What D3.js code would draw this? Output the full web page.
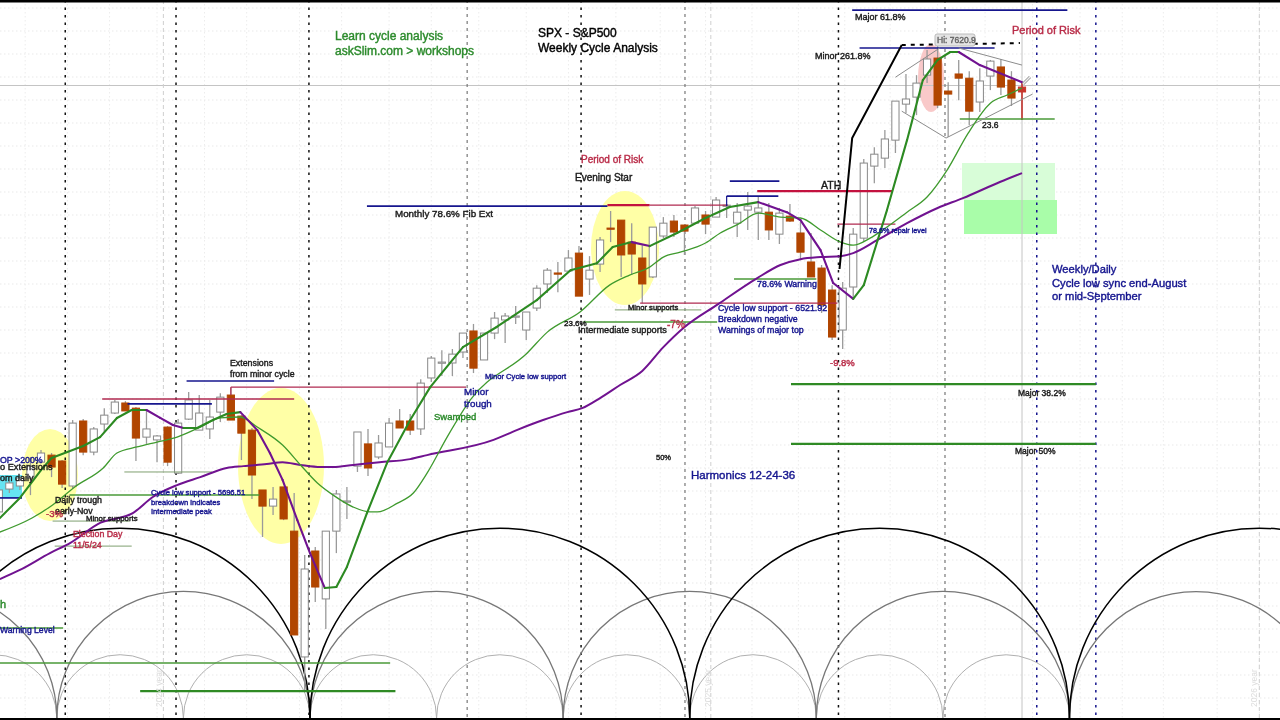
<!DOCTYPE html>
<html>
<head>
<meta charset="utf-8">
<title>SPX Weekly Cycle Analysis</title>
<script src="https://cdn.jsdelivr.net/npm/d3@7"></script>
<style>
body { margin: 0; background: #fff; overflow: hidden; }
#chart-area svg { display: block; filter: blur(0.45px); }
text { font-family: "Liberation Sans", Arial, sans-serif; }
.note { stroke-width: 0.4px; }
</style>
</head>
<body>
<div id="chart-area"></div>
<script>
// weekly candles, first one is week -4
const firstWeek = -4
const opens = [5624,5722,5735,5769,5837,5867,5842,5735,6013,5880,6000,6047,6090,6068,5944,5932,5987,5790,6021,5974,5979,6051,6124,6034,5974,5718,5649,5731,5542,5004,5457,5252,5542,5666,5820,5915,5859,5902,6013,6013,5979,6197,6261,6261,6308,6398,6274,6389,6445,6458,6402,6496,6599,6646,6654,6731,6620,6684,6838,6872,6778,6710,6629,6804,6868,6851,6859,6894,6885,6932,6859,6915,6906,6906,6812,6889,6817,6693,6667,6573,6402,6586,6795,7103,7137,7214,7368,7398,7492,7565,7424,7497,7479,7377,7488,7527,7471,7441]
const highs = [5726,5757,5778,5859,5889,5876,5846,6017,6021,5987,6068,6103,6098,6073,6064,5953,5991,6021,6137,6124,6103,6132,6154,6038,5983,5718,5731,5731,5705,5440,5474,5542,5718,5731,5966,5979,5953,6026,6064,6043,6192,6291,6316,6321,6389,6428,6389,6479,6475,6505,6479,6594,6667,6693,6744,6761,6718,6800,6911,6872,6859,6765,6842,6885,6894,6851,6932,6911,6971,6941,6945,6992,6971,6945,6924,6941,6864,6817,6680,6594,6607,6838,7133,7184,7257,7381,7497,7492,7599,7621,7462,7557,7509,7522,7557,7561,7509,7462]
const lows = [5589,5705,5718,5696,5837,5773,5726,5726,5867,5867,5966,6043,6056,5842,5915,5837,5820,5786,6017,5974,5936,6009,6017,5846,5679,5517,5611,5589,5098,4863,5239,5123,5448,5594,5795,5778,5850,5902,5983,5953,5953,6180,6205,6205,6282,6218,6274,6363,6346,6428,6359,6483,6560,6564,6654,6547,6552,6650,6778,6629,6637,6517,6624,6795,6800,6723,6859,6812,6885,6881,6800,6830,6787,6787,6770,6864,6701,6629,6475,6359,6321,6539,6778,7030,7095,7159,7330,7321,7458,7351,7227,7385,7278,7334,7428,7407,7360,7300]
const closes = [5718,5748,5769,5820,5876,5816,5743,6004,5880,5979,6038,6094,6056,5940,5979,5949,5837,6004,6103,6047,6030,6115,6017,5961,5782,5649,5679,5594,5098,5380,5303,5542,5701,5671,5966,5812,5919,6004,5983,5974,6175,6282,6265,6299,6389,6239,6389,6453,6462,6462,6479,6581,6658,6641,6710,6547,6658,6787,6834,6723,6727,6599,6842,6859,6821,6825,6924,6855,6958,6936,6906,6932,6924,6830,6902,6868,6735,6629,6509,6372,6581,6812,7116,7154,7219,7381,7390,7458,7561,7364,7411,7479,7338,7467,7552,7441,7394,7420]

// moving averages, read as [week, price]
const fastMA = [[-3.9,5598],[-2,5684],[0,5803],[1,5855],[4,5906],[5.6,5944],[7.2,6026],[8.6,6060],[10,6060],[11.3,6026],[12.5,5996],[13.5,5983],[14.8,5983],[16.3,6017],[17.6,6043],[18.9,6051],[20.5,5974],[21.7,5876],[22.9,5761],[24.3,5589],[25.5,5448],[26.9,5299],[28,5303],[29,5389],[30.9,5619],[32.8,5833],[35,6017],[36.9,6158],[40,6329],[43.2,6415],[47,6530],[50.2,6658],[52.7,6688],[54.2,6757],[56,6778],[57.7,6761],[60.3,6817],[63,6881],[65.3,6928],[68,6949],[70.7,6906],[72,6872],[73.9,6744],[75.1,6603],[77,6535],[78,6594],[80.2,6915],[82.1,7214],[83.6,7471],[85,7557],[86.2,7591],[87,7591],[89,7535],[93,7462]]
const midMA = [[-3.9,5538],[-0.85,5598],[1.1,5654],[3.2,5731],[5.9,5812],[7.2,5876],[9.1,5902],[11,5923],[12.9,5944],[15.1,5987],[17,6026],[18.9,6030],[20.5,5987],[22.9,5910],[24.6,5825],[26.2,5748],[27.7,5696],[29.6,5645],[31.2,5624],[31.9,5624],[33.8,5662],[35.3,5705],[36.6,5790],[38.5,5944],[40.7,6103],[46.1,6304],[48,6393],[51.1,6479],[53.9,6594],[55.8,6637],[57.7,6671],[59,6714],[60.6,6735],[63,6774],[64.4,6817],[66.1,6855],[68,6902],[70.1,6885],[72,6881],[73.9,6830],[75.8,6778],[77,6765],[78.6,6795],[79.8,6830],[82.1,6906],[84,6971],[85.9,7086],[87.9,7244],[90,7372],[91.6,7407],[93,7437]]
const slowMA = [[-3.9,5337],[-2,5376],[0.85,5448],[2.75,5491],[5.6,5577],[8.7,5619],[10.6,5688],[12.9,5739],[15.1,5773],[17.6,5812],[19.2,5820],[21.4,5829],[22.9,5837],[24.6,5825],[26.5,5816],[27.7,5816],[29.6,5825],[32.1,5837],[35,5850],[36.6,5867],[42.9,5932],[45.1,5974],[47.6,6017],[49.9,6051],[51.3,6068],[53,6111],[54.9,6167],[57,6227],[59,6329],[60.9,6411],[64.2,6513],[67.9,6624],[70.1,6680],[72,6705],[73.9,6714],[75.8,6718],[77,6731],[79.3,6787],[82.1,6859],[85,6924],[87.4,6966],[90.9,7035],[93,7073]]

// price levels, [from week, to week, price]
const blueLevels = [[76.9,97.3,7770],[77.6,90.4,7608],[30.9,53.7,6932],[65.3,70,7039],[65,69.9,6975],[13.8,22.1,6184],[8.2,16.2,6086],[-4,-1.8,5684]]
const redLevels = [[67.9,80.7,6996],[53.7,57.7,6936]]
const redThinLevels = [[57.7,65.1,6936],[56.8,75.5,6517],[75.5,81,6855],[5.8,24,6107],[18,40.3,6158]]
const greenThickLevels = [[9.4,33.6,4858],[71.1,100,6171],[71.1,100,5915]]
const greenLevels = [[-4,33.1,4978],[-4,2.1,5128],[87.1,96.1,7304],[51.4,64.1,6436],[65.7,73.5,6620],[2.7,20.7,5696]]
const greenThinLevels = [[54.4,62.6,6488],[7.9,16.2,5795],[1.1,8.4,5585],[1.3,8.6,5478]]

// vertical cycle markers, by week
const blackMarkers = [2.3,12.8,25.4,51.2,75.6]
const greyMarkers = [40.4,61.05,85.7]
const lightMarkers = [11.6,63.5,115.5]
const blueMarkers = [94.4,100]
const monthWeeks = [-1.5,2.5,6.5,11,15.5,19.5,24.5,28.5,33,37,41.5,46,50,54.5,58.7,63,67.4,71.8,76.2,80.5,85,89.5,94,98.5,102.5,106.4,111.5,115.5]

// harmonic cycle arcs: length in weeks and the week they all turn on
const cycleLengths = [12,24,36]
const cycleAnchor = 25.5

// wave drawn by hand and the broadening pattern around the top
const waveLine = [[75.7,6663],[76.9,7223],[81.6,7621]]
const highLine = [[81.6,7621],[92.8,7629]]
const patternLines = [
	[[81,7483],[85.2,7608]],
	[[87,7608],[93,7535]],
	[[81.6,7338],[85.8,7223],[94,7411]]
]

const width = 1280
const height = 720

let svg = d3.select("#chart-area")
	.append("svg")
		.attr("width", width)
		.attr("height", height)

let x = d3.scaleLinear().domain([0, 93]).range([41, 1022])
let y = d3.scaleLinear().domain([7620.9, 5696.51]).range([45, 495])

svg.append("rect").attr("width", width).attr("height", height).attr("fill", "#fff")

// dotted grid
let gridY = d3.range(8, 718, 23)
svg.selectAll(".gridh").data(gridY).enter().append("line")
	.attr("x1", 0).attr("x2", width)
	.attr("y1", d => d).attr("y2", d => d)
	.attr("stroke", "#e9e9e9").attr("stroke-dasharray", "1.5 2.5")
svg.selectAll(".gridv").data(monthWeeks).enter().append("line")
	.attr("x1", d => x(d)).attr("x2", d => x(d))
	.attr("y1", 0).attr("y2", height)
	.attr("stroke", "#ececec").attr("stroke-dasharray", "1.5 2.5")

// highlights
let blobs = [
	[50, 475, 28, 46, "#ffffa6"],
	[281, 466, 43, 78, "#ffffa6"],
	[625, 248, 34, 57, "#ffffa6"],
	[931, 78, 13, 34, "#f9c9c9"]
]
svg.selectAll(".blob").data(blobs).enter().append("ellipse")
	.attr("cx", d => d[0]).attr("cy", d => d[1])
	.attr("rx", d => d[2]).attr("ry", d => d[3])
	.attr("fill", d => d[4])
let boxes = [
	[0, 475, 22, 23, "#66e4f2"],
	[962, 163, 93, 37, "#d8fdd8"],
	[964, 200, 93, 34, "#a9fda9"]
]
svg.selectAll(".box").data(boxes).enter().append("rect")
	.attr("x", d => d[0]).attr("y", d => d[1])
	.attr("width", d => d[2]).attr("height", d => d[3])
	.attr("fill", d => d[4])

// crosshair
svg.append("line").attr("x1", 0).attr("x2", width).attr("y1", 85.5).attr("y2", 85.5).attr("stroke", "#c4c4c4").attr("stroke-width", 1)
svg.append("line").attr("x1", x(93)).attr("x2", x(93)).attr("y1", 0).attr("y2", height).attr("stroke", "#c4c4c4").attr("stroke-width", 1)

function markers(list, color, w, dash) {
	svg.selectAll(null).data(list).enter().append("line")
		.attr("x1", d => x(d)).attr("x2", d => x(d))
		.attr("y1", 0).attr("y2", height)
		.attr("stroke", color).attr("stroke-width", w).attr("stroke-dasharray", dash)
}
markers(lightMarkers, "#cfcfcf", 1, "4 3")
markers(greyMarkers, "#777", 1.2, "3 4")
markers(blackMarkers, "#111", 1.5, "2.5 5")
markers(blueMarkers, "#14148c", 1.5, "2.5 5")

// harmonic arcs
let baseY = 718
let arcStyle = {36: ["#000", 1.5], 24: ["#777", 1.3], 12: ["#b0b0b0", 1]}
cycleLengths.forEach(len => {
	let starts = d3.range(-6, 6).map(k => cycleAnchor + k * len)
	svg.selectAll(null).data(starts).enter().append("path")
		.attr("d", d => {
			let x0 = x(d), x1 = x(d + len), r = (x1 - x0) / 2
			return "M" + x0 + "," + baseY + " A" + r + "," + r + " 0 0 1 " + x1 + "," + baseY
		})
		.attr("fill", "none")
		.attr("stroke", arcStyle[len][0])
		.attr("stroke-width", arcStyle[len][1])
})

// candles
let candles = opens.map((o, i) => ({week: firstWeek + i, o: o, h: highs[i], l: lows[i], c: closes[i]}))
let brown = "#b14500"
let last = 93
let g = svg.selectAll(".candle").data(candles).enter().append("g").attr("class", "candle")
g.append("line")
	.attr("x1", d => x(d.week)).attr("x2", d => x(d.week))
	.attr("y1", d => y(d.h)).attr("y2", d => y(d.l))
	.attr("stroke", d => d.week == last ? "#c0302a" : "#9a9a9a")
	.attr("stroke-width", d => d.week == last ? 1.6 : 1.3)
g.append("rect")
	.attr("x", d => x(d.week) - 3.6)
	.attr("width", 7.2)
	.attr("y", d => y(Math.max(d.o, d.c)))
	.attr("height", d => Math.max(1.2, Math.abs(y(d.o) - y(d.c))))
	.attr("fill", d => d.week == last ? "#c8372c" : d.c >= d.o ? "#fff" : brown)
	.attr("stroke", d => d.week == last ? "#c8372c" : d.c >= d.o ? "#888" : brown)
	.attr("stroke-width", 1)

// levels
function levels(list, color, w) {
	svg.selectAll(null).data(list).enter().append("line")
		.attr("x1", d => x(d[0])).attr("x2", d => x(d[1]))
		.attr("y1", d => y(d[2])).attr("y2", d => y(d[2]))
		.attr("stroke", color).attr("stroke-width", w)
}
levels(blueLevels, "#16168e", 1.7)
levels(redLevels, "#c3123f", 2.4)
levels(redThinLevels, "#b02a50", 1.3)
levels(greenThickLevels, "#2f8a24", 2.2)
levels(greenLevels, "#4a9a38", 1.5)
levels(greenThinLevels, "#7f9f70", 1)

// small ticks hanging off two of the levels
svg.append("line").attr("x1", x(65)).attr("x2", x(65)).attr("y1", y(6975)).attr("y2", y(6932)).attr("stroke", "#16168e").attr("stroke-width", 1.2)
svg.append("line").attr("x1", x(18)).attr("x2", x(18)).attr("y1", y(6158)).attr("y2", y(6124)).attr("stroke", "#b02a50").attr("stroke-width", 1.2)

let line = d3.line().x(d => x(d[0])).y(d => y(d[1]))

// pattern around the top
patternLines.forEach(p => {
	svg.append("path").attr("d", line(p)).attr("fill", "none").attr("stroke", "#8c8c8c").attr("stroke-width", 1)
})

// moving averages
let curve = d3.line().x(d => x(d[0])).y(d => y(d[1])).curve(d3.curveMonotoneX)
svg.append("path").attr("d", curve(slowMA)).attr("fill", "none").attr("stroke", "#701290").attr("stroke-width", 2)
svg.append("path").attr("d", curve(midMA)).attr("fill", "none").attr("stroke", "#3f9a2e").attr("stroke-width", 1.3)
d3.pairs(fastMA).forEach(p => {
	svg.append("path").attr("d", line(p)).attr("fill", "none")
		.attr("stroke", p[1][1] < p[0][1] ? "#701290" : "#2c8a22")
		.attr("stroke-width", 2.1).attr("stroke-linecap", "round")
})

// wave up to the high
svg.append("path").attr("d", line(waveLine)).attr("fill", "none").attr("stroke", "#000").attr("stroke-width", 2)
svg.append("path").attr("d", line(highLine)).attr("fill", "none").attr("stroke", "#000").attr("stroke-width", 2).attr("stroke-dasharray", "4 5")

// chart cursor
svg.append("line").attr("x1", 1023).attr("y1", 84).attr("x2", 1030).attr("y2", 77).attr("stroke", "#999").attr("stroke-width", 3)
svg.append("line").attr("x1", 1023).attr("y1", 84).attr("x2", 1030).attr("y2", 77).attr("stroke", "#eee").attr("stroke-width", 1.2)

// high tag
svg.append("rect").attr("x", 935).attr("y", 34).attr("width", 40).attr("height", 12).attr("rx", 2)
	.attr("fill", "#e4e4e4").attr("stroke", "#bbb")

// notes
const navy = "#15158f"
const green = "#2b8a2b"
const crimson = "#b92c48"
const dark = "#1a1a1a"
let notes = [
	["Learn cycle analysis", 335, 40, 12, green],
	["askSlim.com > workshops", 335, 55, 12, green],
	["SPX - S&P500", 538, 37, 12, "#000"],
	["Weekly Cycle Analysis", 538, 52, 12, "#000"],
	["Major 61.8%", 855, 20, 9, dark],
	["Minor 261.8%", 815, 59, 9, dark],
	["Hi: 7620.9", 937, 43, 8.5, "#666"],
	["Period of Risk", 1012, 34, 11, crimson],
	["Period of Risk", 581, 163, 10, crimson],
	["Evening Star", 575, 181, 10, dark],
	["ATH", 821, 189, 10.5, dark],
	["Monthly 78.6% Fib Ext", 395, 217, 9.8, dark],
	["23.6", 982, 128, 8.5, dark],
	["78.6% repair level", 869, 233, 7.2, navy],
	["78.6% Warning", 757, 287, 8.8, navy],
	["Cycle low support - 6521.92", 718, 311, 8.8, navy],
	["Breakdown negative", 718, 322, 8.8, navy],
	["Warnings of major top", 718, 333, 8.8, navy],
	["-9.8%", 830, 366, 9.5, crimson],
	["Major 38.2%", 1018, 396, 8.5, dark],
	["Major 50%", 1015, 454, 8.5, dark],
	["50%", 656, 460, 7.5, dark],
	["Harmonics 12-24-36", 691, 479, 11.5, navy],
	["Weekly/Daily", 1052, 273, 11.2, navy],
	["Cycle low sync end-August", 1052, 287, 11.2, navy],
	["or mid-September", 1052, 300, 11.2, navy],
	["23.6%", 564, 326, 8, dark],
	["Intermediate supports", 578, 333, 9.2, dark],
	["-7%", 667, 328, 10, crimson],
	["Minor supports", 628, 310, 7.6, dark],
	["Minor Cycle low support", 485, 379, 7.6, navy],
	["Minor", 464, 395, 9.8, navy],
	["trough", 464, 407, 9.8, navy],
	["Swamped", 434, 420, 9.5, green],
	["Extensions", 230, 366, 8.8, dark],
	["from minor cycle", 230, 377, 8.8, dark],
	["Cycle low support - 5696.51", 151, 495, 7.6, navy],
	["breakdown indicates", 151, 505, 7.6, navy],
	["Intermediate peak", 151, 514, 7.6, navy],
	["OP >200%", 0, 463, 8.8, navy],
	["o Extensions", 0, 470, 9.2, dark],
	["om daily", 0, 481, 9, dark],
	["Daily trough", 55, 503, 8.8, dark],
	["early-Nov", 55, 514, 8.8, dark],
	["-3%", 46, 517, 9.5, crimson],
	["Minor supports", 86, 521, 7.8, dark],
	["Election Day", 73, 537, 8.8, crimson],
	["11/5/24", 73, 548, 8.8, crimson],
	["h", 0, 608, 11, green],
	["Warning Level", 0, 633, 8.6, navy]
]
svg.selectAll(".note").data(notes).enter().append("text")
	.attr("class", "note")
	.attr("x", d => d[1])
	.attr("y", d => d[2])
	.attr("font-size", d => d[3])
	.attr("fill", d => d[4])
	.attr("stroke", d => d[4])
	.text(d => d[0])

// year watermarks on the arcs
let years = [["2024 year", 11.2], ["2025 year", 63.2], ["2026 year", 115]]
svg.selectAll(".year").data(years).enter().append("text")
	.attr("transform", d => "translate(" + (x(d[1]) + 3) + ",707) rotate(-90)")
	.attr("font-size", 8.5)
	.attr("fill", "#dcdcdc")
	.text(d => d[0])

// frame strips of the video
svg.append("rect").attr("width", width).attr("height", 2.5).attr("fill", "#000")
svg.append("rect").attr("y", 718).attr("width", width).attr("height", 2).attr("fill", "#000")
</script>
</body>
</html>
